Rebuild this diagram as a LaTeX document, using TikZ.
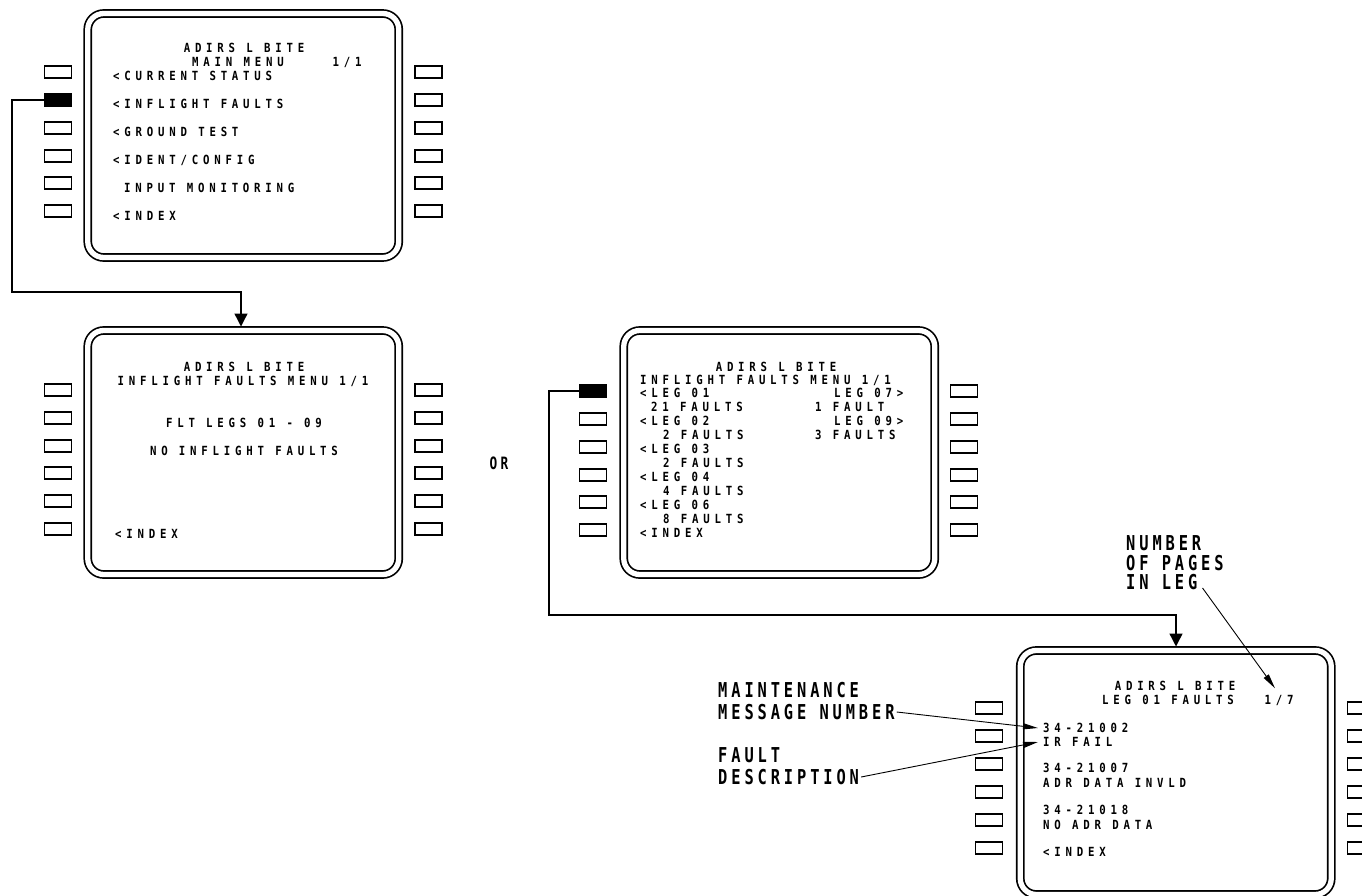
\documentclass[tikz,border=0pt]{standalone}
\usepackage{fontspec}
\usetikzlibrary{arrows.meta}
\newfontfamily\scrfont[LetterSpace=38,FakeStretch=0.85]{DejaVu Sans Mono}
\newfontfamily\lblfont[LetterSpace=19,FakeStretch=0.75]{DejaVu Sans Mono}
\begin{document}
\begin{tikzpicture}[x=1pt,y=-1pt,
 scr/.style={font={\scrfont\bfseries\fontsize{12.6pt}{13pt}\selectfont}, inner sep=0pt, text height=9pt, text depth=0pt},
 scrl/.style={scr, anchor=west},
 lbl/.style={font={\lblfont\bfseries\fontsize{20.5pt}{22pt}\selectfont}, inner sep=0pt, text height=15pt, text depth=0pt, anchor=west},
 screen/.style={draw, line width=1.7pt, double, double distance=5.3pt, rounded corners=16pt, minimum width=311pt, minimum height=244pt, inner sep=0pt},
 btn/.style={draw, line width=1.6pt, minimum width=27pt, minimum height=12.5pt, inner sep=0pt},
 conn/.style={line width=1.4pt},
 arr/.style={-{Triangle[length=13pt,width=13pt]}},
 lead/.style={line width=0.9pt,-{Triangle[length=15pt,width=6pt]}}]
\useasboundingbox (0,0) rectangle (1362,896);

% screens
\node[screen] (s1) at (243.25,135.5) {};
\node[screen] (s2) at (243.25,452.5) {};
\node[screen] (s3) at (779.25,452.5) {};
\node[screen] (s4) at (1175.75,772.5) {};

% buttons
\foreach \i/\y in {1/72,2/100,3/128,4/156,5/183,6/211}
 {\node[btn] (s1l\i) at (58,\y) {}; \node[btn] (s1r\i) at (428.5,\y) {};}
\foreach \i/\y in {1/390,2/418,3/446,4/473,5/501,6/529}
 {\node[btn] (s2l\i) at (58,\y) {}; \node[btn] (s2r\i) at (428.5,\y) {};}
\foreach \i/\y in {1/391,2/419,3/447,4/475,5/502,6/530}
 {\node[btn] (s3l\i) at (593,\y) {}; \node[btn] (s3r\i) at (964,\y) {};}
\foreach \i/\y in {1/708,2/736,3/764,4/792,5/820,6/848}
 {\node[btn] (s4l\i) at (989,\y) {}; \node[btn] (s4r\i) at (1361,\y) {};}
\fill (s1l2.south west) rectangle (s1l2.north east);
\fill (s3l1.south west) rectangle (s3l1.north east);

% screen 1 text
\node[scr] (t1a) at (244,48) {ADIRS L BITE};
\node[scr] (t1b) at (238,62) {MAIN MENU};
\node[scr] (t1c) at (347,62) {1/1};
\node[scrl] (t1d) at (113,76) {<CURRENT STATUS};
\node[scrl] (t1e) at (113,104) {<INFLIGHT FAULTS};
\node[scrl] (t1f) at (113,132) {<GROUND TEST};
\node[scrl] (t1g) at (113,160) {<IDENT/CONFIG};
\node[scrl] (t1h) at (124,188) {INPUT MONITORING};
\node[scrl] (t1i) at (113,216) {<INDEX};

% screen 2 text
\node[scr] (t2a) at (244,367) {ADIRS L BITE};
\node[scr] (t2b) at (243,381) {INFLIGHT FAULTS MENU 1/1};
\node[scr] (t2c) at (244,423) {FLT LEGS 01 - 09};
\node[scr] (t2d) at (244,451) {NO INFLIGHT FAULTS};
\node[scrl] (t2e) at (115,534) {<INDEX};

% screen 3 text
\node[scr] (t3a) at (776,367) {ADIRS L BITE};
\node[scrl] (t3b) at (640,380) {INFLIGHT FAULTS MENU 1/1};
\node[scrl] (t3c) at (640,393) {<LEG 01};
\node[scrl] (t3d) at (651,407) {21 FAULTS};
\node[scrl] (t3e) at (640,421) {<LEG 02};
\node[scrl] (t3f) at (663,435) {2 FAULTS};
\node[scrl] (t3g) at (640,449) {<LEG 03};
\node[scrl] (t3h) at (663,463) {2 FAULTS};
\node[scrl] (t3i) at (640,477) {<LEG 04};
\node[scrl] (t3j) at (663,491) {4 FAULTS};
\node[scrl] (t3k) at (640,505) {<LEG 06};
\node[scrl] (t3l) at (663,519) {8 FAULTS};
\node[scrl] (t3m) at (640,533) {<INDEX};
\node[scrl] (t3n) at (834,393) {LEG 07>};
\node[scrl] (t3o) at (815,407) {1 FAULT};
\node[scrl] (t3p) at (834,421) {LEG 09>};
\node[scrl] (t3q) at (815,435) {3 FAULTS};

% screen 4 text
\node[scr] (t4a) at (1175,686) {ADIRS L BITE};
\node[scrl] (t4b) at (1102,700) {LEG 01 FAULTS};
\node[scr] (t4c) at (1279,700) {1/7};
\node[scrl] (t4d) at (1043,728) {34-21002};
\node[scrl] (t4e) at (1043,742) {IR FAIL};
\node[scrl] (t4f) at (1043,768) {34-21007};
\node[scrl] (t4g) at (1043,783) {ADR DATA INVLD};
\node[scrl] (t4h) at (1043,810) {34-21018};
\node[scrl] (t4i) at (1043,825) {NO ADR DATA};
\node[scrl] (t4j) at (1043,852) {<INDEX};

% labels
\node[lbl] (n1) at (1126,543) {NUMBER};
\node[lbl] (n2) at (1126,563) {OF PAGES};
\node[lbl] (n3) at (1126,582) {IN LEG};
\node[lbl] (m1) at (718,690) {MAINTENANCE};
\node[lbl] (m2) at (718,712) {MESSAGE NUMBER};
\node[lbl] (f1) at (718,755) {FAULT};
\node[lbl] (f2) at (718,777) {DESCRIPTION};
\node[lbl, anchor=center, font={\lblfont\bfseries\fontsize{17pt}{18pt}\selectfont}, text height=12.5pt] (or) at (499,463) {OR};

% connectors
\coordinate (j1) at (12,292);
\coordinate (a2) at (241,326.5);
\draw[conn,arr] (s1l2.west) -| (j1) -| (a2);
\coordinate (j2) at (549,615);
\coordinate (a4) at (1176,646.5);
\draw[conn,arr] (s3l1.west) -| (j2) -| (a4);

% leaders
\draw[lead] ([xshift=2pt]m2.east) -- ([xshift=-5pt]t4d.west);
\draw[lead] ([xshift=2pt]f2.east) -- ([xshift=-5pt]t4e.west);
\draw[lead] ([xshift=5pt,yshift=-6pt]n3.east) -- ([xshift=-4pt,yshift=7pt]t4c.north);
\end{tikzpicture}
\end{document}
